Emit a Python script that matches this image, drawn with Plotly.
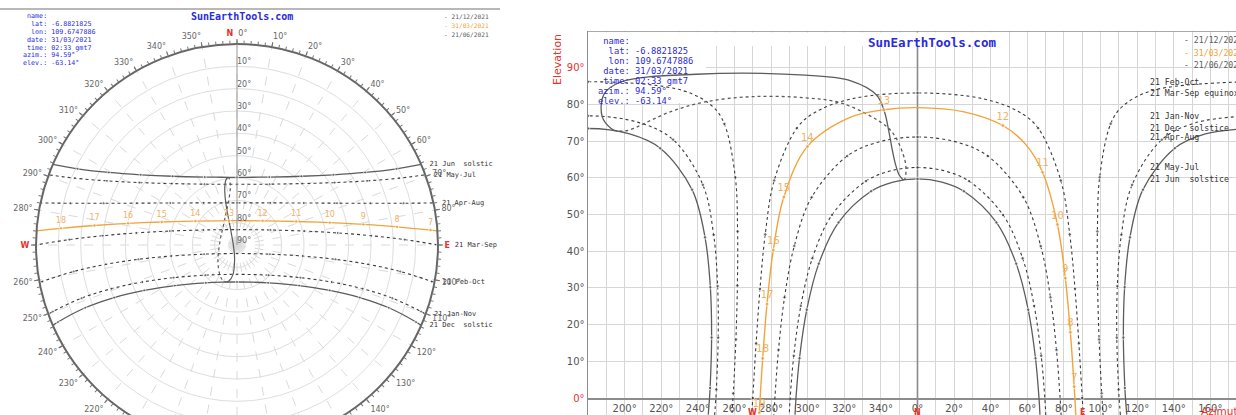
import plotly.graph_objects as go

W, H = 1236, 450

# ---------------------------------------------------------------- data
# t  : solar time from local noon (h) - whole hours carry a dot
# az : azimuth (deg, N=0, E=90, S=180, W=270)
# el : elevation (deg)
dec_t = [-6.53, -6.2, -6, -5, -4, -3, -2, -1, -0.5, 0, 0.5, 1, 2, 3, 4, 5, 6, 6.2, 6.53]
dec_az = [114.30, 113.62, 113.29, 112.47, 113.16, 116.06, 123.16, 140.57, 157.27, 180.0,
          202.73, 219.43, 236.84, 243.94, 246.84, 247.53, 246.71, 246.38, 245.70]
dec_el = [-4.54, 0, 2.73, 16.46, 30.20, 43.77, 56.77, 68.06, 71.94, 73.44,
          71.94, 68.06, 56.77, 43.77, 30.20, 16.46, 2.73, 0, -4.54]

jan_t = [-6.5, -6.17, -6, -5, -4, -3, -2, -1, -0.5, 0, 0.5, 1, 2, 3, 4, 5, 6, 6.17, 6.5]
jan_az = [110.82, 110.15, 109.87, 108.88, 109.19, 111.37, 117.26, 133.51, 151.72, 180.0,
          208.28, 226.49, 242.74, 248.63, 250.81, 251.12, 250.13, 249.85, 249.18]
jan_el = [-4.63, 0, 2.35, 16.41, 30.49, 44.48, 58.09, 70.40, 74.97, 76.88,
          74.97, 70.40, 58.09, 44.48, 30.49, 16.41, 2.35, 0, -4.63]

feb_t = [-6.42, -6.09, -6, -5, -4, -3, -2, -1, -0.67, -0.33, 0,
         0.33, 0.67, 1, 2, 3, 4, 5, 6, 6.09, 6.42]
feb_az = [101.42, 100.78, 100.62, 99.21, 98.39, 98.28, 99.52, 105.52, 111.85, 128.07, 180.0,
          231.93, 248.15, 254.48, 260.48, 261.72, 261.61, 260.79, 259.38, 259.22, 258.58]
feb_el = [-4.87, 0, 1.27, 15.95, 30.67, 45.40, 60.13, 74.70, 79.41, 83.75, 86.18,
          83.75, 79.41, 74.70, 60.13, 45.40, 30.67, 15.95, 1.27, 0, -4.87]

mar_t = [-6.33, -6, -5, -4, -3, -2, -1, -0.67, -0.33, 0, 0.33, 0.67, 1, 2, 3, 4, 5, 6, 6.33]
mar_az = [90.6, 90.0, 88.16, 86.04, 83.17, 78.28, 65.91, 55.81, 36.14, 0.0,
          323.86, 304.19, 294.09, 281.72, 276.83, 273.96, 271.84, 270.0, 269.4]
mar_el = [-4.96, 0, 14.89, 29.76, 44.59, 59.29, 73.53, 77.88, 81.50, 83.12,
          81.50, 77.88, 73.53, 59.29, 44.59, 29.76, 14.89, 0, -4.96]

apr_t = [-6.23, -5.9, -5, -4, -3, -2, -1, -0.5, 0, 0.5, 1, 2, 3, 4, 5, 5.9, 6.23]
apr_az = [78.47, 77.91, 75.93, 72.63, 67.30, 57.81, 38.38, 21.59, 0.0,
          338.41, 321.62, 302.19, 292.70, 287.37, 284.07, 282.09, 281.53]
apr_el = [-4.83, 0, 13.09, 27.43, 41.44, 54.70, 65.94, 69.70, 71.12,
          69.70, 65.94, 54.70, 41.44, 27.43, 13.09, 0, -4.83]

may_t = [-6.17, -5.83, -5, -4, -3, -2, -1, -0.5, 0, 0.5, 1, 2, 3, 4, 5, 5.83, 6.17]
may_az = [70.08, 69.55, 67.59, 63.74, 57.42, 46.71, 28.19, 15.03, 0.0,
          344.97, 331.81, 313.29, 302.58, 296.26, 292.41, 290.45, 289.92]
may_el = [-4.71, 0, 11.50, 25.09, 38.09, 49.89, 59.09, 61.84, 62.82,
          61.84, 59.09, 49.89, 38.09, 25.09, 11.50, 0, -4.71]

jun_t = [-6.13, -5.8, -5, -4, -3, -2, -1, -0.5, 0, 0.5, 1, 2, 3, 4, 5, 5.8, 6.13]
jun_az = [66.90, 66.38, 64.46, 60.48, 53.92, 43.11, 25.36, 13.37, 0.0,
          346.63, 334.64, 316.89, 306.08, 299.52, 295.54, 293.62, 293.10]
jun_el = [-4.56, 0, 10.84, 24.07, 36.61, 47.83, 56.32, 58.82, 59.68,
          58.82, 56.32, 47.83, 36.61, 24.07, 10.84, 0, -4.56]

# selected day 31/03/2021 (clock-hour labels)
sel_hour = ["", "", "7", "8", "9", "10", "11", "", "12", "", "", "13", "",
            "14", "15", "16", "17", "18", "", "19"]
sel_az = [86.55, 85.97, 85.59, 83.52, 80.75, 76.46, 68.33, 59.32, 46.61, 24.79, 0.0,
          341.62, 323.5, 299.84, 287.0, 281.21, 277.80, 275.42, 274.03, 273.55]
sel_el = [-4.94, 0, 3.09, 17.91, 32.66, 47.27, 61.50, 68.97, 74.25, 78.03, 79.12,
          78.54, 76.51, 68.50, 54.75, 40.29, 25.59, 10.80, 0, -4.05]

# analemma (same clock time through the year): Dec->Jun and Jun->Dec halves
ana1_az = [195.95, 192.62, 187.71, 188.74, 197.94, 239.0, 298.63, 323.60, 337.61,
           341.88, 344.35, 346.27, 347.95, 350.07, 352.28]
ana1_el = [72.72, 73.46, 76.75, 82.80, 86.10, 88.22, 87.97, 86.43, 82.56,
           78.14, 72.67, 67.46, 63.73, 60.68, 59.39]
ana2_az = [352.28, 353.18, 353.71, 353.03, 348.51, 342.77, 319.0, 297.98, 269.38,
           243.87, 224.88, 210.56, 204.91, 200.02, 195.95]
ana2_el = [59.39, 59.80, 62.45, 64.94, 70.63, 74.12, 80.25, 81.82, 82.11,
           80.67, 77.96, 74.77, 73.45, 72.75, 72.72]

curve_names = ["21 Dec\u00a0 solstice", "21 Jan-Nov", "21 Feb-Oct", "21 Mar-Sep equinox",
               "21 Apr-Aug", "21 May-Jul", "21 Jun\u00a0 solstice"]
curve_names_polar = ["21 Dec\u00a0 solstic", "21 Jan-Nov", "21 Feb-Oct", "21 Mar-Sep",
                     "21 Apr-Aug", "21 May-Jul", "21 Jun\u00a0 solstic"]

x_tick_deg = [200, 220, 240, 260, 280, 300, 320, 340, 0, 20, 40, 60, 80, 100, 120, 140, 160]
el_tick_deg = [0, 10, 20, 30, 40, 50, 60, 70, 80, 90]
polar_el_ticks = [10, 20, 30, 40, 50, 60, 70, 80, 90]
cardinal_az = [270, 0, 90]
cardinal_txt = ["W", "N", "E"]

info_lines = ["\u00a0name:", "\u00a0\u00a0lat: -6.8821825", "\u00a0\u00a0lon: 109.6747886",
              "\u00a0date: 31/03/2021", "\u00a0time: 02:33 gmt7", "azim.: 94.59°", "elev.: -63.14°"]
legend_dates = ["21/12/2021", "31/03/2021", "21/06/2021"]
site_title = "SunEarthTools.com"

# ---------------------------------------------------------------- style
ORANGE = "#f2a33a"
ORANGE_TXT = "#eeb264"
DARK = "#3c3c3c"
SOLID = "#5c5c5c"
GRID = "#d6d6d6"
AXIS = "#8c8c8c"
RED = "#e8322c"
BLUE = "#2a2ae0"
MONO = "DejaVu Sans Mono"
SANS = "DejaVu Sans"
curve_dash = ["solid", "dot", "dot", "dot", "dot", "dot", "solid"]
polar_label_pad = [2, 2, 2, 4, 2, 2, 2]
legend_col = [SOLID, ORANGE, SOLID]


def px(x):
    return x / W


def py(y):
    return 1 - y / H


def unwrap(a):
    return a + 360 if a < 180 else a


def split_for_cartesian(az, el, tag):
    xs, ys, tags = [], [], []
    prev = None
    for a, e, g in zip(az, el, tag):
        u = unwrap(a)
        if prev is not None and abs(u - prev[0]) > 180:
            s = 360 if u < prev[0] else -360
            xs += [u + s, None, prev[0] - s]
            ys += [e, None, prev[1]]
            tags += [g, None, prev[2]]
        xs.append(u)
        ys.append(e)
        tags.append(g)
        prev = (u, e, g)
    return xs, ys, tags


def is_hour(v):
    return v is not None and float(v).is_integer()


fig = go.Figure()

curves = [(dec_t, dec_az, dec_el), (jan_t, jan_az, jan_el), (feb_t, feb_az, feb_el),
          (mar_t, mar_az, mar_el), (apr_t, apr_az, apr_el), (may_t, may_az, may_el),
          (jun_t, jun_az, jun_el)]

for i, (t, az, el) in enumerate(curves):
    dash = curve_dash[i]
    col = SOLID if dash == "solid" else DARK
    wid = 1.3 if dash == "solid" else 1.1
    fig.add_trace(go.Scatterpolar(
        r=[90 - e for e in el], theta=az, mode="lines+markers", subplot="polar",
        line=dict(color=col, width=wid, dash=dash, shape="spline"),
        marker=dict(size=[3 if is_hour(v) else 0 for v in t], color=col),
        cliponaxis=True, hoverinfo="skip", showlegend=False))
    xs, ys, tg = split_for_cartesian(az, el, t)
    fig.add_trace(go.Scatter(
        x=xs, y=ys, mode="lines+markers", xaxis="x", yaxis="y",
        line=dict(color=col, width=wid, dash=dash, shape="spline"),
        marker=dict(size=[3.5 if is_hour(v) else 0 for v in tg], color=col),
        hoverinfo="skip", showlegend=False))

# analemma
for a_az, a_el, dash in [(ana1_az, ana1_el, "solid"), (ana2_az, ana2_el, "dot")]:
    fig.add_trace(go.Scatterpolar(
        r=[90 - e for e in a_el], theta=a_az, mode="lines", subplot="polar",
        line=dict(color=SOLID, width=1.2, dash=dash, shape="spline"),
        cliponaxis=True, hoverinfo="skip", showlegend=False))
    fig.add_trace(go.Scatter(
        x=[unwrap(a) for a in a_az], y=a_el, mode="lines", xaxis="x", yaxis="y",
        line=dict(color=SOLID, width=1.3, dash=dash, shape="spline"),
        hoverinfo="skip", showlegend=False))

# selected day (orange)
fig.add_trace(go.Scatterpolar(
    r=[90 - e for e in sel_el], theta=sel_az, mode="lines+markers+text", subplot="polar",
    line=dict(color=ORANGE, width=1.3, shape="spline"),
    marker=dict(size=[3.5 if h else 0 for h in sel_hour], color=ORANGE),
    text=sel_hour, textposition="top center",
    textfont=dict(family=SANS, size=8, color=ORANGE_TXT),
    cliponaxis=True, hoverinfo="skip", showlegend=False))
sx, sy, sl = split_for_cartesian(sel_az, sel_el, sel_hour)
fig.add_trace(go.Scatter(
    x=sx, y=sy, mode="lines+markers+text", xaxis="x", yaxis="y",
    line=dict(color=ORANGE, width=1.4, shape="spline"),
    marker=dict(size=[4 if h else 0 for h in sl], color=ORANGE),
    text=[h if h else "" for h in sl], textposition="top center",
    textfont=dict(family=SANS, size=10, color=ORANGE_TXT),
    cliponaxis=False, hoverinfo="skip", showlegend=False))

# polar date labels at the sunrise points
rise_az = [az[el.index(0)] for (_, az, el) in curves]
fig.add_trace(go.Scatterpolar(
    r=[90] * len(rise_az), theta=rise_az, mode="text", subplot="polar",
    text=["\u00a0" * p + n for p, n in zip(polar_label_pad, curve_names_polar)],
    textposition="middle right",
    textfont=dict(family=MONO, size=7, color="#333"),
    cliponaxis=False, hoverinfo="skip", showlegend=False))

# elevation labels along the north radius
fig.add_trace(go.Scatterpolar(
    r=[90 - v for v in polar_el_ticks], theta=[0] * len(polar_el_ticks), mode="text",
    subplot="polar", text=[f"{v}°" for v in polar_el_ticks], textposition="top right",
    textfont=dict(family=SANS, size=8, color="#666"),
    cliponaxis=False, hoverinfo="skip", showlegend=False))

# empty trace for the fine tick ring
fig.add_trace(go.Scatterpolar(r=[], theta=[], subplot="polar2", showlegend=False))

# ---------------------------------------------------------------- polar axes
ang_vals = list(range(0, 360, 10))
ang_text = []
for a in ang_vals:
    if a == 0:
        ang_text.append(f"<span style='color:{RED}'><b>N</b></span>\u00a0\u00a00°")
    elif a == 90:
        ang_text.append(f"<span style='color:{RED}'><b>E</b></span>")
    elif a == 180:
        ang_text.append(f"<span style='color:{RED}'><b>S</b></span>")
    elif a == 270:
        ang_text.append(f"<span style='color:{RED}'><b>W</b></span>")
    else:
        ang_text.append(f"{a}°")

pdom = dict(x=[px(36), px(438)], y=[py(446), py(44)])
polar = dict(
    domain=pdom, bgcolor="white",
    angularaxis=dict(rotation=90, direction="clockwise", tickmode="array",
                     tickvals=ang_vals, ticktext=ang_text, ticks="outside", ticklen=4,
                     tickcolor="#666", showline=True, linecolor="#666", linewidth=2,
                     showgrid=True, gridcolor="#dadada", griddash="dash",
                     tickfont=dict(family=SANS, size=8, color="#666")),
    radialaxis=dict(range=[0, 90], angle=90, tickmode="array",
                    tickvals=[90 - v for v in polar_el_ticks],
                    showticklabels=False,
                    showline=True, linecolor="#999", linewidth=1, ticks="",
                    showgrid=True, gridcolor="#dedede"),
)
polar2 = dict(
    domain=pdom, bgcolor="rgba(0,0,0,0)",
    angularaxis=dict(rotation=90, direction="clockwise", tickmode="array",
                     tickvals=list(range(0, 360, 2)), ticktext=[""] * 180,
                     ticks="outside", ticklen=3, tickcolor="#777", tickwidth=1,
                     showline=False, showgrid=False),
    radialaxis=dict(visible=False, range=[0, 90]),
)

# ---------------------------------------------------------------- cartesian axes
x_vals = list(range(180, 540, 10))
x_tick_unwrapped = [unwrap(v) for v in x_tick_deg]
x_text = [f"{x_tick_deg[x_tick_unwrapped.index(v)]}°" if v in x_tick_unwrapped else ""
          for v in x_vals]
y_text = [f"<span style='color:{RED}'>{v}°</span>" if v in (0, 90) else f"{v}°"
          for v in el_tick_deg]

xaxis = dict(domain=[px(588), 1.0], range=[180, 534], anchor="free", position=py(398),
             tickmode="array", tickvals=x_vals, ticktext=x_text, ticks="",
             showgrid=True, gridcolor=GRID, gridwidth=1, zeroline=False,
             showline=True, linecolor=AXIS, linewidth=1.5, layer="below traces",
             tickfont=dict(family=SANS, size=10, color="#555"), fixedrange=True)
yaxis = dict(domain=[py(416.35), py(31)], range=[-5, 100], anchor="x",
             tickmode="array", tickvals=el_tick_deg, ticktext=y_text, ticks="",
             showgrid=True, gridcolor=GRID, gridwidth=1, zeroline=False,
             showline=True, linecolor=AXIS, linewidth=1.5, layer="below traces",
             tickfont=dict(family=SANS, size=10, color="#555"), fixedrange=True)

shapes = [
    # frame line over the left panel
    dict(type="line", xref="paper", yref="paper", x0=0, x1=px(500), y0=py(9), y1=py(9),
         line=dict(color="#a0a0a0", width=1.5)),
    # top frame of the right panel
    dict(type="line", xref="x domain", yref="y", x0=0, x1=1, y0=100, y1=100,
         line=dict(color=AXIS, width=1.5)),
    # north meridian
    dict(type="line", xref="x", yref="y", x0=unwrap(0), x1=unwrap(0), y0=-5, y1=100,
         line=dict(color="#8a8a8a", width=1.6), layer="between"),
    # white boxes behind the info block and title
    dict(type="rect", xref="x", yref="y", x0=180, x1=244.5, y0=80.4, y1=99.6,
         fillcolor="white", line=dict(width=0), layer="between"),
    dict(type="rect", xref="x", yref="y", x0=180, x1=405, y0=95.9, y1=99.6,
         fillcolor="white", line=dict(width=0), layer="between"),
]

ann = []
# titles
ann.append(dict(x=px(242), y=py(16), xref="paper", yref="paper", text=f"<b>{site_title}</b>",
                showarrow=False, xanchor="center", yanchor="middle",
                font=dict(family=MONO, size=10, color=BLUE)))
ann.append(dict(x=px(932), y=py(42), xref="paper", yref="paper", text=f"<b>{site_title}</b>",
                showarrow=False, xanchor="center", yanchor="middle",
                font=dict(family=MONO, size=12.5, color=BLUE)))
# info blocks
for k, line in enumerate(info_lines):
    ann.append(dict(x=px(21), y=py(16 + k * 7.9), xref="paper", yref="paper", text=line,
                    showarrow=False, xanchor="left", yanchor="middle",
                    font=dict(family=MONO, size=6.7, color=BLUE)))
    ann.append(dict(x=px(596), y=py(41 + k * 10), xref="paper", yref="paper", text=line,
                    showarrow=False, xanchor="left", yanchor="middle",
                    font=dict(family=MONO, size=8.8, color=BLUE)))
# date legends
for k, d in enumerate(legend_dates):
    ann.append(dict(x=px(442), y=py(16 + k * 9.5), xref="paper", yref="paper", text="- " + d,
                    showarrow=False, xanchor="left", yanchor="middle",
                    font=dict(family=MONO, size=6.2, color=legend_col[k])))
    ann.append(dict(x=px(1182), y=py(40 + k * 12.5), xref="paper", yref="paper", text="- " + d,
                    showarrow=False, xanchor="left", yanchor="middle",
                    font=dict(family=MONO, size=8.2, color=legend_col[k])))
# curve labels on the right panel, at each noon elevation
for k, (_, az, el) in enumerate(curves):
    ann.append(dict(x=px(1148), y=max(el), xref="paper", yref="y", text=curve_names[k],
                    showarrow=False, xanchor="left", yanchor="middle",
                    font=dict(family=MONO, size=8.2, color="#333")))
# axis titles / cardinal points
ann.append(dict(x=px(558), y=py(60), xref="paper", yref="paper", text="Elevation",
                textangle=-90, showarrow=False, xanchor="center", yanchor="middle",
                font=dict(family=SANS, size=11, color=RED)))
ann.append(dict(x=px(1199), y=py(411), xref="paper", yref="paper", text="Azimuth",
                showarrow=False, xanchor="left", yanchor="middle",
                font=dict(family=SANS, size=10.5, color=RED)))
for a, c in zip(cardinal_az, cardinal_txt):
    ann.append(dict(x=unwrap(a), y=py(412), xref="x", yref="paper", text=f"<b>{c}</b>",
                    showarrow=False, xanchor="center", yanchor="middle",
                    font=dict(family=SANS, size=8, color=RED)))

fig.update_layout(
    width=W, height=H, autosize=False, margin=dict(l=0, r=0, t=0, b=0, pad=0),
    paper_bgcolor="white", plot_bgcolor="white", showlegend=False, hovermode=False,
    polar=polar, polar2=polar2, xaxis=xaxis, yaxis=yaxis,
    shapes=shapes, annotations=ann,
)

fig.write_html(
    "out.html",
    config={"displayModeBar": False, "staticPlot": True},
    post_script="document.body.style.margin='0';document.body.style.overflow='hidden';"
                "document.documentElement.style.overflow='hidden';",
)
